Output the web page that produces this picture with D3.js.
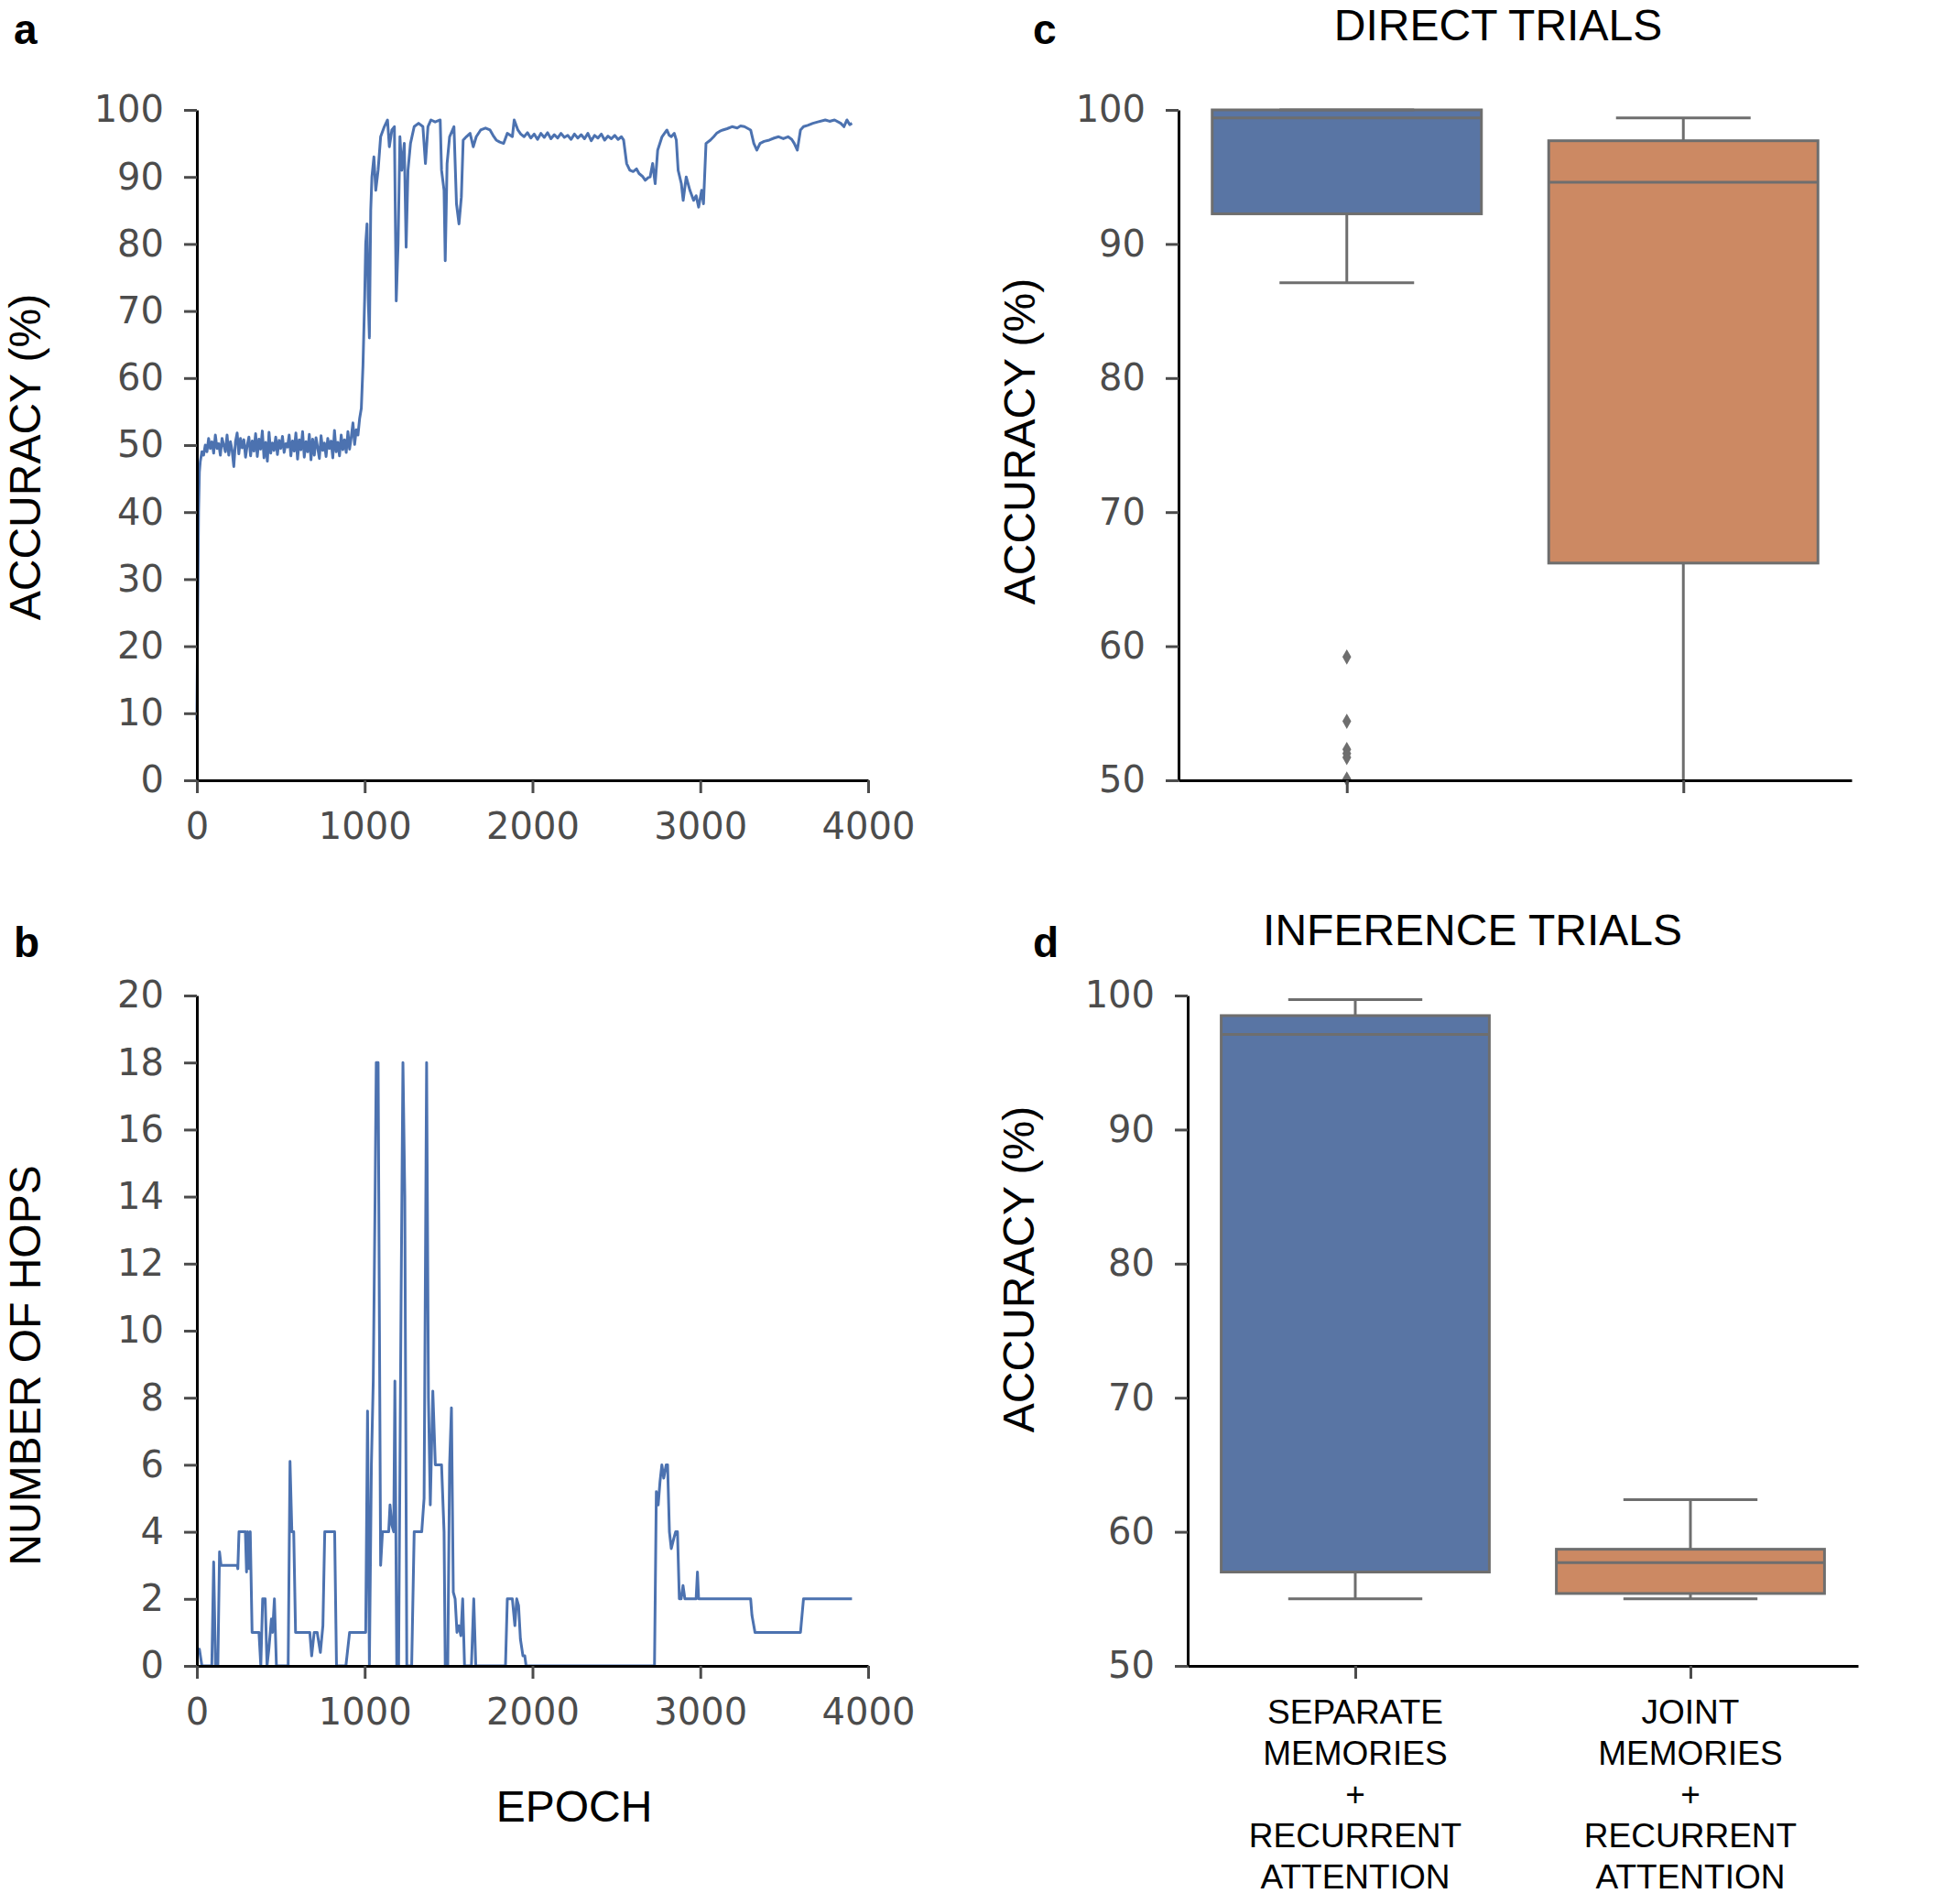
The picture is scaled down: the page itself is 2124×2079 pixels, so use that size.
<!DOCTYPE html>
<html>
<head>
<meta charset="utf-8">
<script src="https://cdn.jsdelivr.net/npm/d3@7"></script>
<style>
  body { margin: 0; background: #fff; }
</style>
</head>
<body>
<svg id="fig" width="2124" height="2079"></svg>
<script>
// panel a: accuracy per epoch, [epoch, accuracy %]
var accuracyTrace = [
  [0,9],[5,25],[10,40],[15,46],[20,47.5],[30,49],
  [40,48.5],[50,50],[60,49],[70,51],[80,49.5],[90,50.5],[100,48.8],[110,51.5],[120,49.5],[130,50.2],
  [140,48.5],[150,51],[160,50],[170,49],[180,51.5],[190,48.5],[200,50.5],[210,49.2],[220,46.8],[230,50.5],
  [240,51.8],[250,48.7],[260,51],[270,49.6],[280,50.8],[290,48.2],[300,50],[310,51.2],[320,48.4],[330,50.6],
  [340,49.1],[350,51.7],[360,48.3],[370,50.9],[380,49.4],[390,52.1],[400,48.1],[410,50.4],[420,47.6],[430,51.9],
  [440,48.8],[450,50.3],[460,49.2],[470,51.2],[480,48.6],[490,50.7],[500,49.5],[510,51.3],[520,48.9],[530,50.2],
  [540,49.7],[550,51.5],[560,48.4],[570,50.6],[580,49.1],[590,51.8],[600,47.9],[610,50.8],[620,49.3],[630,52],
  [640,48.2],[650,50.5],[660,49],[670,51.6],[680,47.8],[690,50.9],[700,48.5],[710,51.1],[720,49.6],[730,48],
  [740,51.4],[750,49.2],[760,50.3],[770,48.3],[780,51],[790,49.5],[800,50.6],[810,48.1],[820,52.2],[830,49],
  [840,50.4],[850,48.4],[860,51.5],[870,49.3],[880,50.8],[890,48.9],[900,52],[910,49.4],[920,51.2],[930,53.3],
  [940,50.1],[950,52.3],[960,51.5],[970,54],[980,55.5],[990,62],[1000,72],[1006,80],[1014,83],[1021,72],
  [1028,66],[1036,85],[1043,90],[1055,93],[1066,88],[1080,91],[1095,96],[1117,97.5],[1136,98.5],[1147,94.5],
  [1162,97],[1177,97.5],[1188,71.5],[1199,80],[1210,96],[1221,91],[1236,95],[1247,79.5],[1258,91],[1273,95],
  [1295,97.5],[1321,98],[1347,97.5],[1362,92],[1377,97.5],[1395,98.5],[1420,98.2],[1450,98.5],[1458,91],[1473,88],
  [1480,77.5],[1491,92],[1506,96],[1532,97.5],[1547,86],[1562,83],[1576,87],[1587,95.5],[1606,96],[1628,96.5],
  [1647,94.5],[1665,96],[1691,97],[1720,97.3],[1747,97],[1765,96.2],[1784,95.5],[1805,95.2],[1828,95],[1850,96.5],
  [1880,96],[1891,98.5],[1913,97],[1930,96.4],[1950,96],[1970,96.6],[1990,95.8],[2010,96.4],[2030,95.6],[2050,96.5],
  [2070,95.9],[2090,96.6],[2110,95.7],[2130,96.3],[2150,95.8],[2170,96.5],[2190,95.9],[2210,96.2],[2230,95.6],[2250,96.4],
  [2270,95.8],[2290,96.3],[2310,95.7],[2330,96.5],[2350,95.4],[2370,96.2],[2390,95.8],[2410,96.4],[2430,95.5],[2450,96.1],
  [2470,95.7],[2490,96.2],[2510,95.6],[2530,96],[2543,95.5],[2561,92],[2580,91],[2600,90.8],[2620,91.2],[2635,90.5],
  [2655,90.1],[2672,89.5],[2690,89.9],[2701,90],[2716,92],[2731,89],[2746,94],[2772,96],[2801,97],[2815,96.2],
  [2827,96],[2845,96.5],[2857,95.5],[2868,91],[2887,89],[2898,86.5],[2916,90],[2938,88],[2960,86.5],[2975,87.2],
  [2990,85.5],[3008,88],[3019,86],[3034,95],[3060,95.5],[3080,96],[3097,96.5],[3115,96.8],[3134,97],[3160,97.2],
  [3189,97.5],[3220,97.3],[3240,97.6],[3263,97.5],[3300,97],[3319,95],[3337,94],[3356,95],[3380,95.3],[3411,95.5],
  [3440,95.8],[3467,96],[3495,95.7],[3523,96],[3545,95.6],[3560,95],[3578,94],[3597,97],[3615,97.5],[3640,97.7],
  [3671,98],[3700,98.2],[3745,98.5],[3770,98.3],[3800,98.5],[3837,98],[3856,97.5],[3874,98.5],[3890,97.8],[3904,98]
];

// panel b: number of hops per epoch, [epoch, hops]
var hopsTrace = [
  [0,0.5],[15,0.5],[30,0],[89,0],[100,3.1],[111,0],[125,0],[135,3.4],[144,3],[240,3],[244,2.9],[251,4],
  [289,4],[296,2.8],[303,4],[311,2.9],[318,4],[329,1],[370,1],[381,0],[392,2],[407,2],[418,0],[429,0.5],
  [444,1.4],[451,1],[462,2],[474,0],[544,0],[555,6.1],[566,4],[577,4],[588,1],[673,1],[684,0.3],[699,1],
  [717,1],[736,0.4],[751,1.2],[762,4],[821,4],[832,0],[888,0],[910,1],[1006,1],[1017,7.6],[1028,0],[1040,6],
  [1051,8.5],[1062,14],[1069,18],[1080,18],[1088,10],[1095,3],[1106,4],[1143,4],[1151,4.8],[1162,4.2],[1173,4],
  [1180,8.5],[1191,0],[1202,0],[1217,11],[1228,18],[1239,14],[1251,0],[1280,0],[1295,4],[1340,4],[1354,5],
  [1369,18],[1380,8],[1391,4.8],[1406,8.2],[1421,6],[1458,6],[1473,4],[1480,0],[1495,0],[1506,6],[1517,7.7],
  [1528,2.2],[1539,2],[1550,1],[1562,1.2],[1573,0.9],[1584,2],[1595,0],[1636,0],[1650,2],[1662,0],[1839,0],
  [1850,2],[1880,2],[1895,1.2],[1906,2],[1917,1.8],[1928,0.8],[1943,0.3],[1954,0.3],[1962,0],[2727,0],
  [2738,5.2],[2749,4.8],[2760,5.5],[2771,6],[2782,5.6],[2797,6],[2805,6],[2816,4],[2827,3.5],[2842,3.8],
  [2853,4],[2864,4],[2875,2],[2886,2],[2897,2.4],[2908,2],[2975,2],[2983,2.8],[2990,2],[3300,2],[3308,1.5],
  [3326,1],[3597,1],[3615,2],[3904,2]
];

var epochTicks = [0, 1000, 2000, 3000, 4000];
var accuracyTicks = [0, 10, 20, 30, 40, 50, 60, 70, 80, 90, 100];
var hopsTicks = [0, 2, 4, 6, 8, 10, 12, 14, 16, 18, 20];
var boxTicks = [50, 60, 70, 80, 90, 100];

var models = ['separate', 'joint'];
var modelLabels = [
  ['SEPARATE', 'MEMORIES', '+', 'RECURRENT', 'ATTENTION'],
  ['JOINT', 'MEMORIES', '+', 'RECURRENT', 'ATTENTION']
];
var modelColors = ['#5975a4', '#cc8963'];

// box stats: [lower whisker, q1, median, q3, upper whisker]
var directStats = [[87.1, 92.25, 99.4, 100, 100], [50, 66.2, 94.6, 97.7, 99.4]];
var directFliers = [[59.2, 54.4, 52.3, 52.0, 51.7, 50.1], []];
var inferenceStats = [[55.0, 57.0, 97.1, 98.5, 99.7], [55.0, 55.4, 57.7, 58.7, 62.4]];
var inferenceFliers = [[], []];

var svg = d3.select('#fig');
var tickGrey = '#4c4c4c',
    edgeGrey = '#6e6e6e',
    lineBlue = '#4c72b0';

function styleAxis(g) {
  g.attr('font-family', 'DejaVu Sans').attr('font-size', 40);
  g.select('.domain').attr('stroke', '#000').attr('stroke-width', 3);
  g.selectAll('.tick line').attr('stroke', tickGrey).attr('stroke-width', 3);
  g.selectAll('.tick text').attr('fill', tickGrey);
}

function yLabel(txt, cx, cy) {
  svg.append('text')
      .attr('transform', 'translate(' + cx + ',' + cy + ') rotate(-90)')
      .attr('text-anchor', 'middle')
      .attr('dy', '0.36em')
      .attr('font-family', 'Liberation Sans, Arial, sans-serif')
      .attr('font-size', 48)
      .text(txt);
}

function panelLetter(txt, px, py) {
  svg.append('text')
      .attr('x', px).attr('y', py)
      .attr('font-family', 'Liberation Sans, Arial, sans-serif')
      .attr('font-weight', 'bold')
      .attr('font-size', 46)
      .text(txt);
}

function linePanel(trace, yMax, yTicks, top, bottom) {
  var x = d3.scaleLinear().domain([0, 4000]).range([215, 948]),
      y = d3.scaleLinear().domain([0, yMax]).range([bottom, top]);

  svg.append('path')
      .datum(trace)
      .attr('fill', 'none')
      .attr('stroke', lineBlue)
      .attr('stroke-width', 3)
      .attr('stroke-linejoin', 'round')
      .attr('d', d3.line().x(function(d){ return x(d[0]); }).y(function(d){ return y(d[1]); }));

  svg.append('g')
      .attr('transform', 'translate(215,0)')
      .call(d3.axisLeft(y).tickValues(yTicks).tickSize(14).tickSizeOuter(0).tickPadding(22))
      .call(styleAxis);
  svg.append('g')
      .attr('transform', 'translate(0,' + bottom + ')')
      .call(d3.axisBottom(x).tickValues(epochTicks).tickFormat(d3.format('d'))
            .tickSize(14).tickSizeOuter(0).tickPadding(22))
      .call(styleAxis);
}

function boxPanel(stats, fliers, left, right, top, bottom) {
  var x = d3.scalePoint().domain(models).range([left, right]).padding(0.5),
      y = d3.scaleLinear().domain([50, 100]).range([bottom, top]),
      bw = x.step() * 0.8;

  var g = svg.append('g');
  models.forEach(function(m, i) {
    var s = stats[i], cx = x(m);
    // whiskers
    g.append('line').attr('x1', cx).attr('x2', cx).attr('y1', y(s[0])).attr('y2', y(s[1]))
        .attr('stroke', edgeGrey).attr('stroke-width', 3);
    g.append('line').attr('x1', cx).attr('x2', cx).attr('y1', y(s[3])).attr('y2', y(s[4]))
        .attr('stroke', edgeGrey).attr('stroke-width', 3);
    // box
    g.append('rect')
        .attr('x', cx - bw / 2).attr('width', bw)
        .attr('y', y(s[3])).attr('height', y(s[1]) - y(s[3]))
        .attr('fill', modelColors[i])
        .attr('stroke', edgeGrey).attr('stroke-width', 3);
    // median
    g.append('line').attr('x1', cx - bw / 2).attr('x2', cx + bw / 2).attr('y1', y(s[2])).attr('y2', y(s[2]))
        .attr('stroke', edgeGrey).attr('stroke-width', 3);
    // caps (the one sitting on the axis floor is hidden in the original)
    [s[0], s[4]].forEach(function(v) {
      if (v <= 50) return;
      g.append('line').attr('x1', cx - bw / 4).attr('x2', cx + bw / 4).attr('y1', y(v)).attr('y2', y(v))
          .attr('stroke', edgeGrey).attr('stroke-width', 3);
    });
    fliers[i].forEach(function(v) {
      g.append('path')
          .attr('transform', 'translate(' + cx + ',' + y(v) + ')')
          .attr('d', d3.symbol().type(d3.symbolDiamond).size(80)())
          .attr('fill', edgeGrey);
    });
  });

  svg.append('g')
      .attr('transform', 'translate(' + left + ',0)')
      .call(d3.axisLeft(y).tickValues(boxTicks).tickSize(14).tickSizeOuter(0).tickPadding(22))
      .call(styleAxis);
  svg.append('g')
      .attr('transform', 'translate(0,' + bottom + ')')
      .call(d3.axisBottom(x).tickSize(14).tickSizeOuter(0).tickFormat(''))
      .call(styleAxis);
  return x;
}

// panel a
linePanel(accuracyTrace, 100, accuracyTicks, 120, 852);
yLabel('ACCURACY (%)', 27, 499);
panelLetter('a', 15, 48);

// panel b
linePanel(hopsTrace, 20, hopsTicks, 1087, 1819);
yLabel('NUMBER OF HOPS', 27, 1491);
panelLetter('b', 15, 1045);
svg.append('text')
    .attr('x', 627).attr('y', 1989)
    .attr('text-anchor', 'middle')
    .attr('font-family', 'Liberation Sans, Arial, sans-serif')
    .attr('font-size', 48)
    .text('EPOCH');

// panel c
boxPanel(directStats, directFliers, 1287, 2022, 120, 852);
yLabel('ACCURACY (%)', 1113, 482);
panelLetter('c', 1128, 48);
svg.append('text')
    .attr('x', 1636).attr('y', 44)
    .attr('text-anchor', 'middle')
    .attr('font-family', 'Liberation Sans, Arial, sans-serif')
    .attr('font-size', 48)
    .text('DIRECT TRIALS');

// panel d
var xd = boxPanel(inferenceStats, inferenceFliers, 1297, 2029, 1087, 1819);
yLabel('ACCURACY (%)', 1112, 1386);
panelLetter('d', 1128, 1045);
svg.append('text')
    .attr('x', 1608).attr('y', 1032)
    .attr('text-anchor', 'middle')
    .attr('font-family', 'Liberation Sans, Arial, sans-serif')
    .attr('font-size', 48)
    .text('INFERENCE TRIALS');

models.forEach(function(m, i) {
  var t = svg.append('text')
      .attr('text-anchor', 'middle')
      .attr('font-family', 'Liberation Sans, Arial, sans-serif')
      .attr('font-size', 37);
  modelLabels[i].forEach(function(line, j) {
    t.append('tspan').attr('x', xd(m)).attr('y', 1882 + j * 45).text(line);
  });
});
</script>
</body>
</html>
